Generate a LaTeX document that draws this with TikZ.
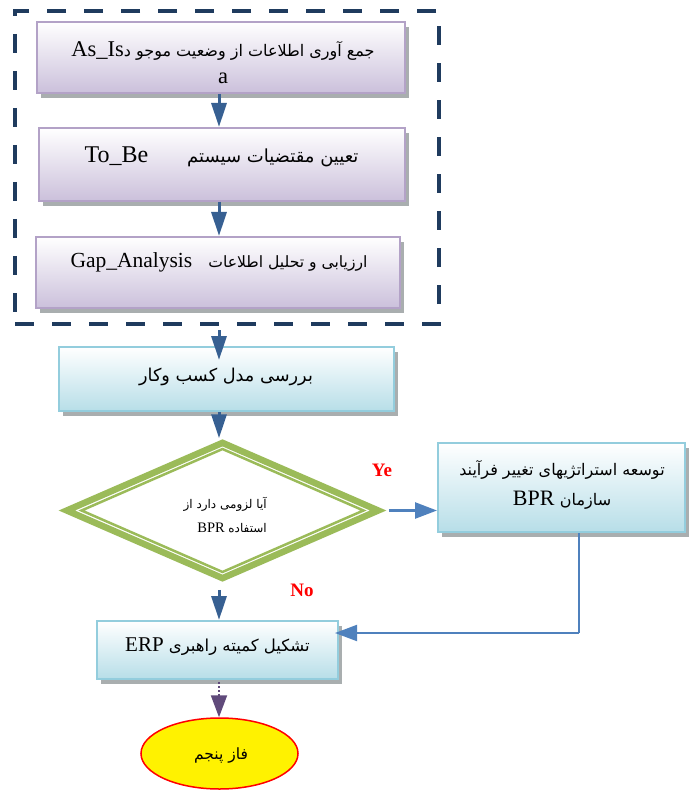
\documentclass[tikz,border=0pt]{standalone}
\usepackage{fontspec}
\setmainfont{Liberation Serif}
\newfontfamily\fa[Script=Arabic]{DejaVu Sans}
\TeXXeTstate=1
\usetikzlibrary{arrows.meta,shapes.geometric,shadows,calc}
\definecolor{navy}{HTML}{1F3B5E}
\definecolor{lavb}{HTML}{B3A2C7}
\definecolor{lavf}{HTML}{CBC0DB}
\definecolor{cyb}{HTML}{93CDDD}
\definecolor{cyf}{HTML}{B7DEE8}
\definecolor{darr}{HTML}{376092}
\definecolor{larr}{HTML}{4F81BD}
\definecolor{grn}{HTML}{9BBB59}
\definecolor{parr}{HTML}{604A7B}
\definecolor{shd}{HTML}{A9AEAF}
\newcommand\fatxt[2]{{\fa\fontsize{#1}{#1}\selectfont #2}}
\begin{document}
\begin{tikzpicture}[x=1pt,y=-1pt,
  boxbase/.style={rectangle, inner sep=0pt, line width=2pt,
    drop shadow={shadow xshift=4pt, shadow yshift=-5pt, fill=shd, opacity=1}},
  lavbox/.style={boxbase, draw=lavb, top color=white, bottom color=lavf},
  cybox/.style={boxbase, draw=cyb, top color=white, bottom color=cyf},
  txt/.style={inner sep=0pt, align=center, font=\fontsize{22}{27}\selectfont},
  darrow/.style={draw=darr, line width=3pt, -{Triangle[width=15pt,length=24pt]}, darr},
  larrow/.style={draw=larr, line width=2.5pt, -{Triangle[width=16pt,length=22pt]}, larr},
  lbl/.style={inner sep=0pt, text=red, font=\fontsize{19}{19}\selectfont\bfseries}
]
\useasboundingbox (0,0) rectangle (695,791);

% dashed group frame
\node[draw=navy, line width=4.5pt, dash pattern=on 19pt off 18pt, rectangle,
  minimum width=424pt, minimum height=313pt, inner sep=0pt] (grp) at (227,167.5) {};

\coordinate (colx) at (219,0);

% boxes
\node[lavbox, minimum width=368pt, minimum height=71pt] (b1) at (221,57.5) {};
\node[lavbox, minimum width=366pt, minimum height=73pt] (b2) at (222,164.5) {};
\node[lavbox, minimum width=364pt, minimum height=71pt] (b3) at (218,272.5) {};
\node[cybox, minimum width=335pt, minimum height=64pt] (b4) at (226.5,379) {};
\node[cybox, minimum width=247pt, minimum height=89pt] (b5) at (561.5,487.5) {};
\node[cybox, minimum width=241pt, minimum height=58pt] (b6) at (217.5,650) {};

% decision
\node[diamond, draw=grn, line width=6.5pt, fill=white, inner sep=0pt,
  minimum width=314pt, minimum height=138pt] (dia) at (222.5,510.5) {};
\node[diamond, draw=grn, line width=2.5pt, inner sep=0pt,
  minimum width=283pt, minimum height=124pt] (diain) at (222.5,510.5) {};

% end
\node[ellipse, draw=red, line width=1.5pt, fill=yellow, inner sep=0pt,
  minimum width=157pt, minimum height=71pt] (ell) at (219.5,753.5) {};

% texts
\node[txt, font=\fontsize{22.5}{27}\selectfont] (t1) at (223,63) {\beginR\fatxt{16}{جمع آوری اطلاعات از وضعیت موجو د}\beginL As\_Is\endL\endR\\a};
\node[txt, font=\fontsize{24}{27}\selectfont] (t2) at (221.5,157) {\beginR\fatxt{18}{تعیین مقتضیات سیستم}\hspace{39pt}\beginL To\_Be\endL\endR};
\node[txt, font=\fontsize{21.5}{27}\selectfont] (t3) at (219,262) {\beginR\fatxt{15.6}{ارزیابی و تحلیل اطلاعات}\hspace{16pt}\beginL Gap\_Analysis\endL\endR};
\node[txt] (t4) at (226,377) {\beginR\fatxt{17.7}{بررسی مدل کسب وکار}\endR};
\node[txt, font=\fontsize{22}{30}\selectfont] (t5) at (562,485) {\beginR\fatxt{16}{توسعه استراتژیهای تغییر فرآیند}\endR\\\beginR\fatxt{16}{سازمان}\ \beginL BPR\endL\endR};
\node[txt, font=\fontsize{21}{27}\selectfont] (t6) at (217.5,647) {\beginR\fatxt{16.5}{تشکیل کمیته راهبری}\ \beginL ERP\endL\endR};
\node[txt, align=right, anchor=east, font=\fontsize{14.5}{24}\selectfont] (t7) at (267,515) {\beginR\fatxt{12}{آیا لزومی دارد از}\endR\\\beginR\fatxt{12}{استفاده}\ \beginL BPR\endL\endR};
\node[txt] (t8) at (221,755) {\beginR\fatxt{15.5}{فاز پنجم}\endR};

\node[lbl] (ye) at (382,470) {Ye};
\node[lbl] (no) at (302,590) {No};

% connectors
\draw[darrow] (b1.south -| colx) -- (b2.north -| colx);
\draw[darrow] (b2.south -| colx) -- (b3.north -| colx);
\draw[darrow] ([yshift=-4pt]grp.south -| colx) -- ([yshift=-14pt]b4.north -| colx);
\draw[darrow] (b4.south -| colx) -- (dia.north -| colx);
\draw[darrow] ([yshift=-7pt]dia.south -| colx) -- (b6.north -| colx);
\draw[larrow] ([xshift=6pt]dia.east) -- (dia.east -| b5.west);
\coordinate (ret) at (579,633);
\draw[draw=larr, line width=2pt] (ret |- b5.south) -- (ret);
\draw[larrow, line width=2pt] (ret) -- ([xshift=-4pt]ret -| b6.east);
\draw[draw=parr, line width=2pt, dotted, -{Triangle[width=16pt,length=22pt]}, parr]
  ([yshift=-2pt]b6.south -| colx) -- (ell.north -| colx);
\end{tikzpicture}
\end{document}
